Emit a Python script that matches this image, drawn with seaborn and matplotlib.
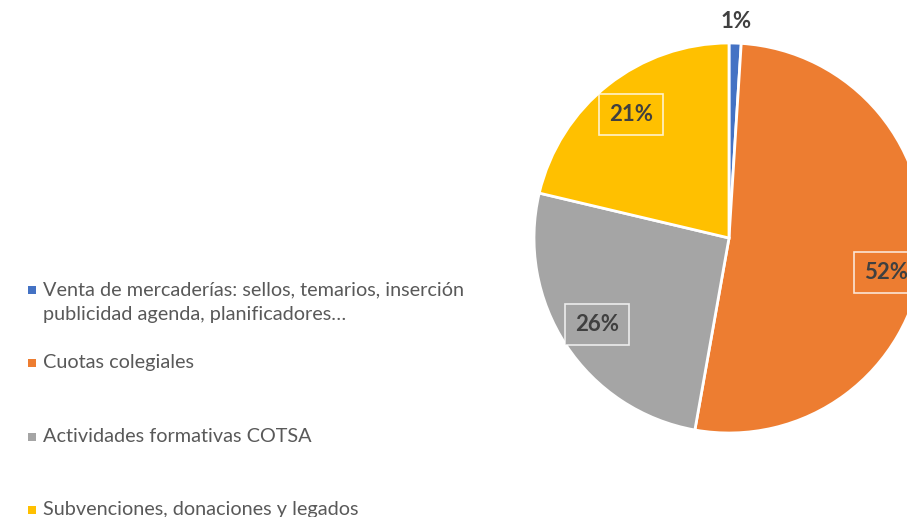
import numpy as np
import matplotlib
matplotlib.use("Agg")
import matplotlib.pyplot as plt
import matplotlib.patches as mpatches
import seaborn as sns

# ── Data ──────────────────────────────────────────────────────
categories = [
    "Venta de mercaderías: sellos, temarios, inserción\npublicidad agenda, planificadores…",
    "Cuotas colegiales",
    "Actividades formativas COTSA",
    "Subvenciones, donaciones y legados",
]
values = [1.0, 51.8, 25.9, 21.3]
pct_labels = ["1%", "52%", "26%", "21%"]
colors = ["#4472C4", "#ED7D31", "#A5A5A5", "#FFC000"]

# ── Style ─────────────────────────────────────────────────────
sns.set_theme(style="white")
plt.rcParams["font.family"] = ["Lato", "DejaVu Sans"]

W, H = 907, 517
fig = plt.figure(figsize=(W / 100, H / 100), dpi=100)
fig.patch.set_facecolor("white")

# pie centre and radius in pixels
cx, cy, r = 729, 238, 195
ax = fig.add_axes([(cx - r) / W, (H - cy - r) / H, 2 * r / W, 2 * r / H])

wedges, _ = ax.pie(values, colors=colors, startangle=90, counterclock=False,
                   wedgeprops=dict(edgecolor="white", linewidth=2))
ax.set_xlim(-1, 1)
ax.set_ylim(-1, 1)
ax.set_aspect("equal")
ax.axis("off")

# percentage labels
for w, lab, col, v in zip(wedges, pct_labels, colors, values):
    ang = np.deg2rad((w.theta1 + w.theta2) / 2)
    if v < 5:
        dist, fc = 1.11, "white"
    else:
        dist, fc = 0.81, col
    x, y = dist * np.cos(ang), dist * np.sin(ang)
    if v > 50:
        y -= 0.08
    ax.text(x, y, lab, ha="center", va="center", fontsize=16,
            fontweight="bold", color="#404040", clip_on=False,
            bbox=dict(boxstyle="square,pad=0.45", fc=fc, ec="#ffffffcc",
                      lw=1.2))

# legend drawn by hand to match Excel's layout
leg_y = [290, 363, 437, 510]
for lab, col, y in zip(categories, colors, leg_y):
    fig.patches.append(mpatches.Rectangle((28 / W, (H - y - 4) / H), 8 / W, 8 / H,
                                          transform=fig.transFigure,
                                          fc=col, ec="none"))
    fig.text(43 / W, (H - y + 9) / H, lab, ha="left", va="top",
             fontsize=14.3, color="#595959", linespacing=1.55)

fig.savefig("out.png", dpi=100)
